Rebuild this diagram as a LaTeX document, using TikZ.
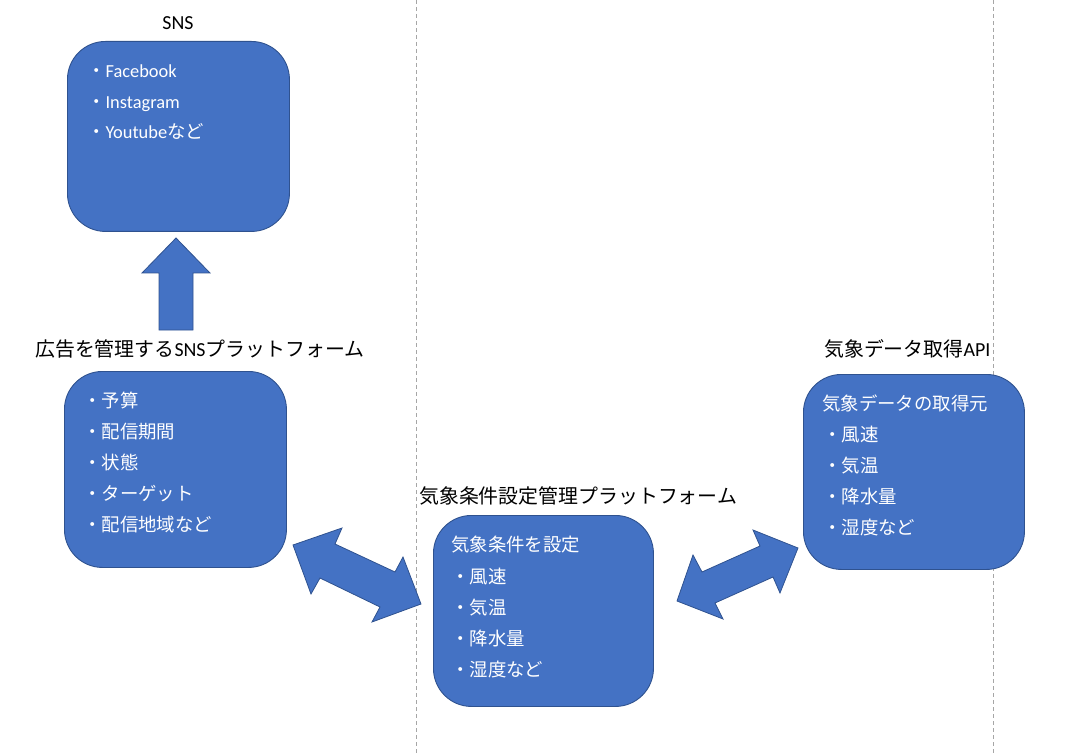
\documentclass[tikz,border=0pt]{standalone}
\usepackage{fontspec}
\setmainfont{Carlito}
\newfontfamily\jp{Noto Sans CJK JP}
\definecolor{boxblue}{HTML}{4472C4}
\definecolor{boxline}{HTML}{2F528F}
\definecolor{guide}{HTML}{A6A6A6}
\tikzset{
  box/.style={draw=boxline, fill=boxblue, line width=0.9pt, rounded corners=38pt, anchor=north west, inner sep=0pt},
  txt/.style={anchor=base west, inner sep=0pt, text=white, font=\fontsize{18.4}{22}\selectfont},
  ttl/.style={anchor=base west, inner sep=0pt, text=black, font=\fontsize{19.9}{24}\selectfont},
  blockarrow/.style={fill=boxblue, draw=boxline, line width=0.8pt, line join=miter},
  guideline/.style={draw=guide, line width=1pt, dash pattern=on 4pt off 3pt}
}
\begin{document}
\begin{tikzpicture}[x=1pt, y=-1pt]
\useasboundingbox (0,0) rectangle (1074,754);
% guide lines
\draw[guideline] (416,0) -- (416,754);
\draw[guideline] (993,0) -- (993,754);

% boxes
\node[box, minimum width=222pt, minimum height=190pt] (sns) at (67,41) {};
\node[box, minimum width=222pt, minimum height=196pt] (ad) at (64,371) {};
\node[box, minimum width=220pt, minimum height=191pt] (cond) at (433,515) {};
\node[box, minimum width=221pt, minimum height=195pt] (api) at (803,374) {};

% titles
\node[ttl, anchor=base] (tsns) at (178,30) {SNS};
\node[ttl] (tad) at (35,356) {{\jp 広告を管理する}SNS{\jp プラットフォーム}};
\node[ttl] (tcond) at (419,503) {\jp 気象条件設定管理プラットフォーム};
\node[ttl] (tapi) at (824,356) {{\jp 気象データ取得}API};

% SNS box text
\node[txt] (s1) at (87,78) {{\jp ・}Facebook};
\node[txt] (s2) at (87,109) {{\jp ・}Instagram};
\node[txt] (s3) at (87,139) {{\jp ・}Youtube{\jp など}};

% ad box text
\node[txt] (a1) at (83,407) {\jp ・予算};
\node[txt] (a2) at (83,438) {\jp ・配信期間};
\node[txt] (a3) at (83,469) {\jp ・状態};
\node[txt] (a4) at (83,500) {\jp ・ターゲット};
\node[txt] (a5) at (83,531) {\jp ・配信地域など};

% condition box text
\node[txt] (c0) at (451,551) {\jp 気象条件を設定};
\node[txt] (c1) at (451,583) {\jp ・風速};
\node[txt] (c2) at (451,614) {\jp ・気温};
\node[txt] (c3) at (451,645) {\jp ・降水量};
\node[txt] (c4) at (451,676) {\jp ・湿度など};

% api box text
\node[txt] (p0) at (822,410) {\jp 気象データの取得元};
\node[txt] (p1) at (823,441) {\jp ・風速};
\node[txt] (p2) at (823,472) {\jp ・気温};
\node[txt] (p3) at (823,503) {\jp ・降水量};
\node[txt] (p4) at (823,534) {\jp ・湿度など};

% up arrow
\draw[blockarrow] (159,330) -- (159,273) -- (142,273) -- (176,238) -- (210,273) -- (193,273) -- (193,330) -- cycle;

% left double arrow
\draw[blockarrow] (293,545) -- (342,528) -- (335,544) -- (395,572) -- (403,557) -- (421,604) -- (372,622) -- (380,607) -- (320,578) -- (311,594) -- cycle;

% right double arrow
\draw[blockarrow] (798,548) -- (753,530) -- (760,546) -- (702,572) -- (693,555) -- (677,601) -- (723,619) -- (715,603) -- (773,577) -- (780,593) -- cycle;
\end{tikzpicture}
\end{document}
